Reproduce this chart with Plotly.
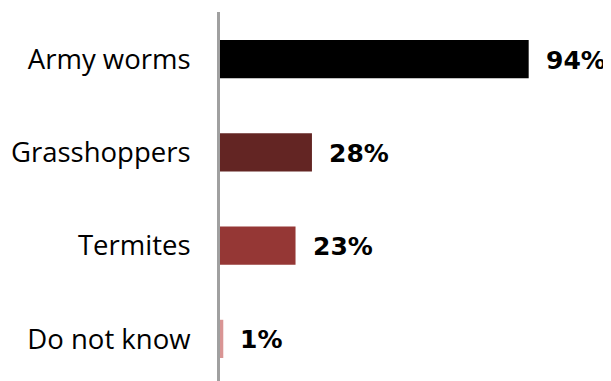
import plotly.graph_objects as go

categories = ["Army worms", "Grasshoppers", "Termites", "Do not know"]
values = [94, 28, 23, 1]
labels = ["94%", "28%", "23%", "1%"]
colors = ["#000000", "#632523", "#953735", "#D99594"]

fig = go.Figure(go.Bar(
    x=values, y=categories, orientation="h",
    marker=dict(color=colors, line=dict(width=0)),
    width=0.41, hoverinfo="skip",
))

for c, v, t in zip(categories, values, labels):
    fig.add_annotation(x=v, y=c, text=t, showarrow=False, xanchor="left",
                       yanchor="middle", xshift=15, yshift=-1,
                       font=dict(family="DejaVu Sans", size=25, color="#000000", weight="bold"))

fig.update_layout(
    width=611, height=381,
    margin=dict(l=212, r=0, t=4, b=0),
    paper_bgcolor="white", plot_bgcolor="white",
    showlegend=False,
    font=dict(family="Open Sans", size=27.5, color="#000000"),
)
fig.update_xaxes(range=[0, 121.5], visible=False, showgrid=False, zeroline=False)
fig.update_yaxes(type="category", categoryorder="array", categoryarray=categories,
                 range=[3.537, -0.504], showline=True, linecolor="#A0A0A0", linewidth=3,
                 showgrid=False, zeroline=False, ticks="", ticklabelstandoff=21,
                 tickfont=dict(family="Open Sans", size=27.5, color="#000000"))

fig.write_html("out.html")
